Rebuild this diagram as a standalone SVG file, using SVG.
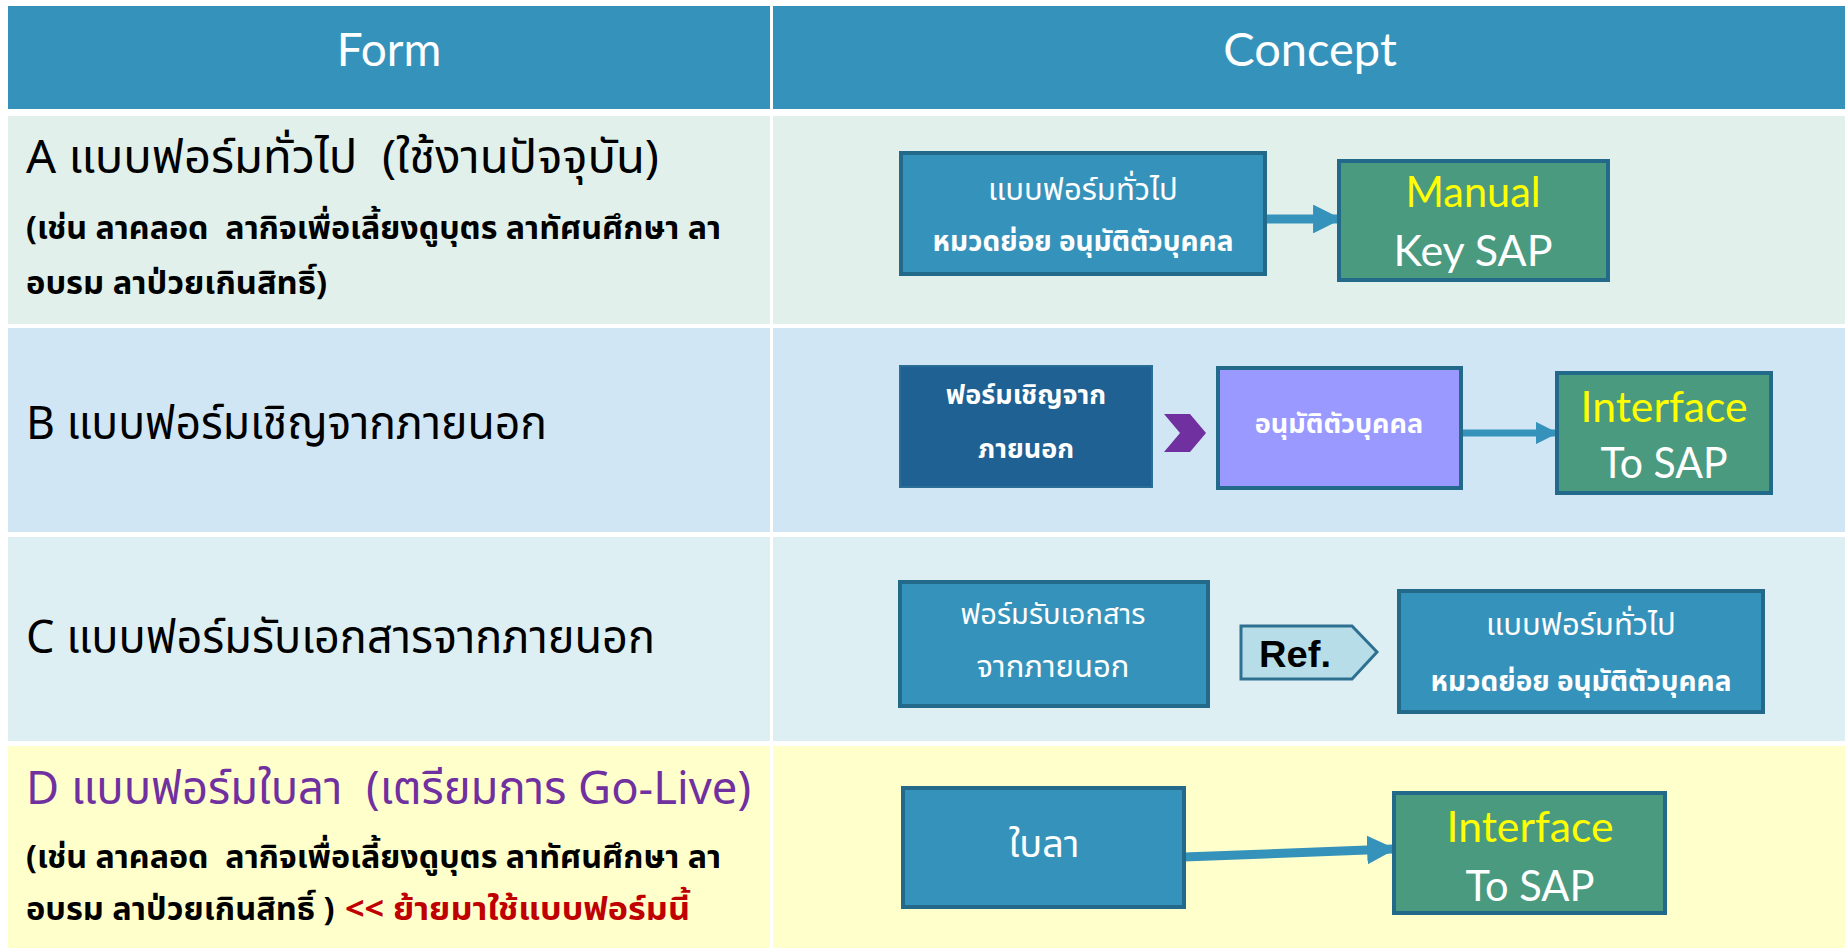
<svg xmlns="http://www.w3.org/2000/svg" width="1845" height="948" viewBox="0 0 1845 948">
<defs>
<style>
.th{font-family:"Noto Sans Thai","Noto Sans","DejaVu Sans",sans-serif;}
.lat{font-family:"Lato","Liberation Sans",sans-serif;}
.hd{font-size:46px;fill:#000;}
.sub{font-size:32px;font-weight:bold;fill:#000;}
.box{stroke:#22698A;stroke-width:4;}
.blue{fill:#3593BB;}
.green{fill:#4A9A80;}
.wt{fill:#fff;font-size:27px;text-anchor:middle;}
.yl{fill:#FFFF00;}
</style>
<marker id="ah" viewBox="0 0 10 10" refX="9" refY="5" markerWidth="3.2" markerHeight="3.2" orient="auto" markerUnits="strokeWidth"><path d="M0,0 L10,5 L0,10 z" fill="#3593BB"/></marker>
</defs>
<rect width="1845" height="948" fill="#fff"/>
<g id="header">
<rect x="8" y="6" width="762" height="103" fill="#3593BB"/>
<rect x="773" y="6" width="1072" height="103" fill="#3593BB"/>
<text x="389" y="66" class="lat" font-size="46" font-weight="400" fill="#fff" text-anchor="middle">Form</text>
<text x="1310" y="66" class="lat" font-size="47" font-weight="400" fill="#fff" text-anchor="middle">Concept</text>
</g>
<g id="rows">
<rect x="8" y="116" width="762" height="208" fill="#E2F0EC"/>
<rect x="773" y="116" width="1072" height="208" fill="#E2F0EC"/>
<rect x="8" y="328" width="762" height="204" fill="#D1E6F4"/>
<rect x="773" y="328" width="1072" height="204" fill="#D1E6F4"/>
<rect x="8" y="537" width="762" height="204" fill="#DDEFF3"/>
<rect x="773" y="537" width="1072" height="204" fill="#DDEFF3"/>
<rect x="8" y="746" width="762" height="202" fill="#FFFFCC"/>
<rect x="773" y="746" width="1072" height="202" fill="#FFFFCC"/>
</g>
<g id="formA">
<text x="26" y="173" class="th hd" xml:space="preserve" textLength="633" lengthAdjust="spacingAndGlyphs">A แบบฟอร์มทั่วไป  (ใช้งานปัจจุบัน)</text>
<text x="26" y="239" class="th sub" xml:space="preserve" textLength="695" lengthAdjust="spacingAndGlyphs">(เช่น ลาคลอด  ลากิจเพื่อเลี้ยงดูบุตร ลาทัศนศึกษา ลา</text>
<text x="26" y="294" class="th sub" textLength="301" lengthAdjust="spacingAndGlyphs">อบรม ลาป่วยเกินสิทธิ์)</text>
</g>
<g id="formB"><text x="26" y="439" class="th hd" textLength="521" lengthAdjust="spacingAndGlyphs">B แบบฟอร์มเชิญจากภายนอก</text></g>
<g id="formC"><text x="26" y="653" class="th hd" textLength="629" lengthAdjust="spacingAndGlyphs">C แบบฟอร์มรับเอกสารจากภายนอก</text></g>
<g id="formD">
<text x="26" y="804" class="th hd" style="fill:#7030A0" xml:space="preserve" textLength="725" lengthAdjust="spacingAndGlyphs">D แบบฟอร์มใบลา  (เตรียมการ Go-Live)</text>
<text x="26" y="868" class="th sub" xml:space="preserve" textLength="695" lengthAdjust="spacingAndGlyphs">(เช่น ลาคลอด  ลากิจเพื่อเลี้ยงดูบุตร ลาทัศนศึกษา ลา</text>
<text x="26" y="920" class="th sub" xml:space="preserve" textLength="317" lengthAdjust="spacingAndGlyphs">อบรม ลาป่วยเกินสิทธิ์ ) </text>
<text x="345" y="920" class="th sub" style="fill:#C00000" textLength="345" lengthAdjust="spacingAndGlyphs">&lt;&lt; ย้ายมาใช้แบบฟอร์มนี้</text>
</g>
<g id="connectors" stroke="#3593BB" fill="none">
<line x1="1265" y1="219" x2="1339" y2="219" stroke-width="9" marker-end="url(#ah)"/>
<line x1="1459" y1="433" x2="1556" y2="433" stroke-width="7" marker-end="url(#ah)"/>
<line x1="1184" y1="857" x2="1393" y2="849" stroke-width="9" marker-end="url(#ah)"/>
</g>
<g id="a1"><rect x="901" y="153" width="364" height="121" class="box blue"/>
<text x="1083" y="200" class="th wt" style="font-size:31px">แบบฟอร์มทั่วไป</text>
<text x="1083" y="251" class="th wt" font-weight="bold" style="font-size:28px">หมวดย่อย อนุมัติตัวบุคคล</text></g>
<g id="a2"><rect x="1339" y="161" width="269" height="119" class="box green"/>
<text x="1473" y="207" class="lat wt yl" style="font-size:42px" textLength="135" lengthAdjust="spacingAndGlyphs">Manual</text>
<text x="1473" y="266" class="lat wt" style="font-size:43px" textLength="159" lengthAdjust="spacingAndGlyphs">Key SAP</text></g>
<g id="b1"><rect x="900" y="366" width="252" height="121" fill="#1F6193" stroke="#2A6D97" stroke-width="2"/>
<text x="1026" y="404" class="th wt" font-weight="bold">ฟอร์มเชิญจาก</text>
<text x="1026" y="458" class="th wt" font-weight="bold">ภายนอก</text></g>
<g id="b2"><path d="M1164,414 L1190,414 L1206,433 L1190,452 L1164,452 L1180,433 z" fill="#7030A0"/></g>
<g id="b3"><rect x="1218" y="368" width="243" height="120" class="box" fill="#9999FF"/>
<text x="1339" y="433" class="th wt" font-weight="bold">อนุมัติตัวบุคคล</text></g>
<g id="b4"><rect x="1557" y="373" width="214" height="120" class="box green"/>
<text x="1664" y="422" class="lat wt yl" style="font-size:42px" textLength="167" lengthAdjust="spacingAndGlyphs">Interface</text>
<text x="1664" y="478" class="lat wt" style="font-size:43px" textLength="127" lengthAdjust="spacingAndGlyphs">To SAP</text></g>
<g id="c1"><rect x="900" y="582" width="308" height="124" class="box blue"/>
<text x="1053" y="624" class="th wt" style="font-size:29px">ฟอร์มรับเอกสาร</text>
<text x="1053" y="677" class="th wt" style="font-size:31px">จากภายนอก</text></g>
<g id="c2"><path d="M1241,626 L1352,626 L1377,652 L1352,679 L1241,679 z" fill="#B7DEE8" stroke="#2E7090" stroke-width="3"/>
<text x="1295" y="667" font-family="Liberation Sans, sans-serif" font-size="36" font-weight="bold" fill="#000" text-anchor="middle" textLength="72" lengthAdjust="spacingAndGlyphs">Ref.</text></g>
<g id="c3"><rect x="1399" y="591" width="364" height="121" class="box blue"/>
<text x="1581" y="635" class="th wt" style="font-size:31px">แบบฟอร์มทั่วไป</text>
<text x="1581" y="691" class="th wt" font-weight="bold" style="font-size:28px">หมวดย่อย อนุมัติตัวบุคคล</text></g>
<g id="d1"><rect x="903" y="788" width="281" height="119" class="box blue"/>
<text x="1044" y="857" class="th wt" style="font-size:38px">ใบลา</text></g>
<g id="d2"><rect x="1394" y="793" width="271" height="120" class="box green"/>
<text x="1530" y="842" class="lat wt yl" style="font-size:42px" textLength="167" lengthAdjust="spacingAndGlyphs">Interface</text>
<text x="1530" y="901" class="lat wt" style="font-size:43px" textLength="129" lengthAdjust="spacingAndGlyphs">To SAP</text></g>
</svg>
